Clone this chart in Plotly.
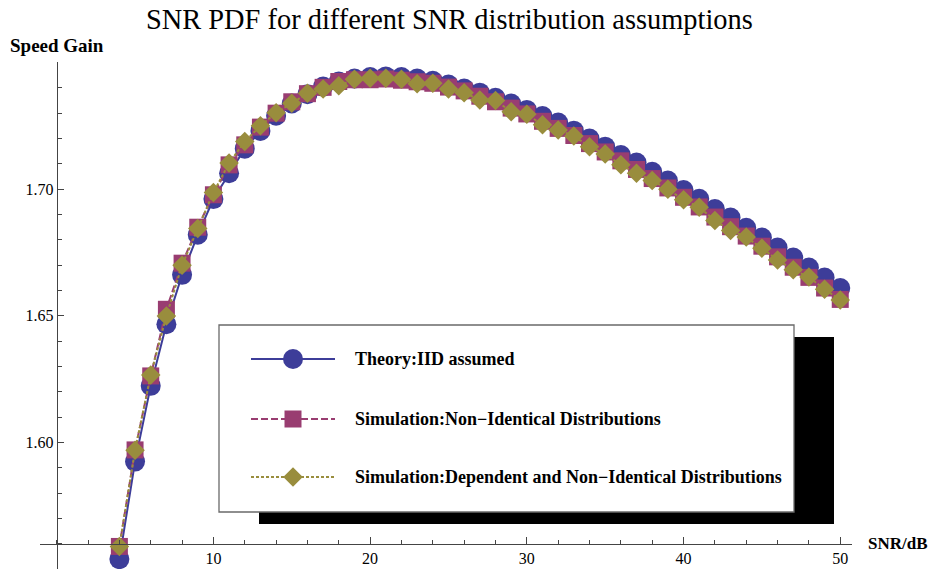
import plotly.graph_objects as go

# ---- data -------------------------------------------------------------
snr_db = [4, 5, 6, 7, 8, 9, 10, 11, 12, 13, 14, 15, 16, 17, 18, 19, 20, 21, 22, 23,
          24, 25, 26, 27, 28, 29, 30, 31, 32, 33, 34, 35, 36, 37, 38, 39, 40, 41, 42,
          43, 44, 45, 46, 47, 48, 49, 50]

theory_iid = [1.5540, 1.5925, 1.6224, 1.6467, 1.6662, 1.6820, 1.6961, 1.7063, 1.7160,
              1.7230, 1.7290, 1.7338, 1.7375, 1.7405, 1.7425, 1.7437, 1.7443, 1.7445,
              1.7443, 1.7437, 1.7428, 1.7413, 1.7397, 1.7381, 1.7361, 1.7338, 1.7313,
              1.7289, 1.7263, 1.7231, 1.7200, 1.7168, 1.7135, 1.7105, 1.7069, 1.7034,
              1.6997, 1.6962, 1.6922, 1.6888, 1.6848, 1.6809, 1.6770, 1.6730, 1.6691,
              1.6651, 1.6610]

sim_non_identical = [1.5590, 1.5971, 1.6263, 1.6526, 1.6708, 1.6850, 1.6978, 1.7096,
                     1.7175, 1.7245, 1.7300, 1.7345, 1.7377, 1.7402, 1.7425, 1.7432,
                     1.7432, 1.7435, 1.7430, 1.7424, 1.7418, 1.7403, 1.7388, 1.7367,
                     1.7345, 1.7320, 1.7297, 1.7268, 1.7240, 1.7212, 1.7180, 1.7147,
                     1.7112, 1.7078, 1.7042, 1.7005, 1.6968, 1.6930, 1.6890, 1.6852,
                     1.6815, 1.6775, 1.6733, 1.6692, 1.6652, 1.6610, 1.6565]

sim_dependent = [1.5590, 1.5970, 1.6267, 1.6500, 1.6700, 1.6845, 1.6987, 1.7103, 1.7188,
                 1.7250, 1.7302, 1.7339, 1.7379, 1.7395, 1.7408, 1.7434, 1.7438, 1.7438,
                 1.7434, 1.7416, 1.7418, 1.7395, 1.7381, 1.7352, 1.7350, 1.7306, 1.7296,
                 1.7254, 1.7234, 1.7210, 1.7168, 1.7139, 1.7096, 1.7063, 1.7034, 1.7000,
                 1.6958, 1.6929, 1.6876, 1.6837, 1.6811, 1.6767, 1.6721, 1.6682, 1.6653,
                 1.6605, 1.6563]

series_names = ["Theory:IID assumed",
                "Simulation:Non\u2212Identical Distributions",
                "Simulation:Dependent and Non\u2212Identical Distributions"]

x_ticks = [10, 20, 30, 40, 50]
y_ticks = [1.60, 1.65, 1.70]

# ---- styling ----------------------------------------------------------
W, H = 933, 569
ML, MR, MT, MB = 40, 81, 62, 0
X_RANGE = [-1.066, 50.75]
Y_RANGE = [1.5501, 1.7502]
AXES_CROSS_X = 0.0
AXES_CROSS_Y = 1.56

COLORS = ["#3d3d99", "#993d71", "#998d3d"]
SYMBOLS = ["circle", "square", "diamond"]
SIZES = [20, 17, 15]
DASHES = ["solid", "7px,3px", "3px,2px"]
SERIF = "Liberation Serif, Times New Roman, serif"
AXIS_COLOR = "#444444"

plot_w = W - ML - MR
plot_h = H - MT - MB


def px_x(px):
    """figure pixel column -> paper x"""
    return (px - ML) / plot_w


def px_y(py):
    """figure pixel row -> paper y"""
    return 1 - (py - MT) / plot_h


fig = go.Figure()

for vals, name, c, sym, sz, dash in zip(
        [theory_iid, sim_non_identical, sim_dependent],
        series_names, COLORS, SYMBOLS, SIZES, DASHES):
    fig.add_trace(go.Scatter(
        x=snr_db, y=vals, name=name, mode="lines+markers",
        line=dict(color=c, width=2, dash=dash),
        marker=dict(symbol=sym, size=sz, color=c, line=dict(width=0)),
        showlegend=False, hoverinfo="x+y",
    ))

# ---- framed legend with drop shadow (drawn in pixel space on overlay axes) ----
BOX = (219, 325, 794, 512)          # left, top, right, bottom
SHADOW_DX, SHADOW_DY = 40, 12
ROW_Y = [359, 419, 477]
SAMPLE_X0, SAMPLE_X1 = 251, 335
TEXT_X = 353

fig.add_shape(type="rect", xref="x2", yref="y2", layer="below",
              x0=BOX[0] + SHADOW_DX, x1=BOX[2] + SHADOW_DX,
              y0=BOX[1] + SHADOW_DY, y1=BOX[3] + SHADOW_DY,
              fillcolor="black", line=dict(width=0))
fig.add_shape(type="rect", xref="x2", yref="y2", layer="below",
              x0=BOX[0], x1=BOX[2], y0=BOX[1], y1=BOX[3],
              fillcolor="white", line=dict(color="#6a6a6a", width=1.3))

for ry, name, c, sym, sz, dash in zip(ROW_Y, series_names, COLORS, SYMBOLS, SIZES, DASHES):
    fig.add_trace(go.Scatter(
        x=[SAMPLE_X0, SAMPLE_X1], y=[ry, ry], xaxis="x2", yaxis="y2",
        mode="lines", line=dict(color=c, width=2, dash=dash),
        showlegend=False, hoverinfo="skip"))
    fig.add_trace(go.Scatter(
        x=[(SAMPLE_X0 + SAMPLE_X1) / 2], y=[ry], xaxis="x2", yaxis="y2",
        mode="markers", marker=dict(symbol=sym, size=sz, color=c, line=dict(width=0)),
        showlegend=False, hoverinfo="skip"))
    fig.add_annotation(x=TEXT_X, y=ry, xref="x2", yref="y2", text=f"<b>{name}</b>",
                       showarrow=False, xanchor="left", yanchor="middle",
                       font=dict(family=SERIF, size=18, color="black"))

# ---- titles -----------------------------------------------------------
fig.add_annotation(x=px_x(449), y=px_y(19), xref="paper", yref="paper",
                   text="SNR PDF for different SNR distribution assumptions",
                   showarrow=False, xanchor="center", yanchor="middle",
                   font=dict(family=SERIF, size=28.4, color="black"))
fig.add_annotation(x=px_x(8), y=px_y(45), xref="paper", yref="paper",
                   text="<b>Speed Gain</b>", showarrow=False,
                   xanchor="left", yanchor="middle",
                   font=dict(family=SERIF, size=19, color="black"))
fig.add_annotation(x=px_x(866), y=px_y(543), xref="paper", yref="paper",
                   text="<b>SNR/dB</b>", showarrow=False,
                   xanchor="left", yanchor="middle",
                   font=dict(family=SERIF, size=17, color="black"))

x_pos = (AXES_CROSS_Y - Y_RANGE[0]) / (Y_RANGE[1] - Y_RANGE[0])
y_pos = (AXES_CROSS_X - X_RANGE[0]) / (X_RANGE[1] - X_RANGE[0])

fig.update_layout(
    width=W, height=H,
    margin=dict(l=ML, r=MR, t=MT, b=MB, autoexpand=False),
    paper_bgcolor="white", plot_bgcolor="rgba(0,0,0,0)",
    font=dict(family=SERIF, size=16, color="black"),
    xaxis=dict(range=X_RANGE, anchor="free", position=x_pos,
               showgrid=False, zeroline=False,
               showline=True, linecolor=AXIS_COLOR, linewidth=1,
               tickmode="array", tickvals=x_ticks, ticks="inside",
               ticklen=7, tickcolor=AXIS_COLOR, tickwidth=1,
               tickfont=dict(family=SERIF, size=16, color="black"),
               minor=dict(dtick=2, tick0=0, ticks="inside", ticklen=3.5,
                          tickcolor=AXIS_COLOR, tickwidth=1, showgrid=False)),
    yaxis=dict(range=Y_RANGE, anchor="free", position=y_pos,
               showgrid=False, zeroline=False,
               showline=True, linecolor=AXIS_COLOR, linewidth=1,
               tickmode="array", tickvals=y_ticks, tickformat=".2f",
               ticks="inside", ticklen=6, tickcolor=AXIS_COLOR, tickwidth=1,
               tickfont=dict(family=SERIF, size=16, color="black"),
               minor=dict(dtick=0.01, tick0=1.60, ticks="inside", ticklen=4,
                          tickcolor=AXIS_COLOR, tickwidth=1, showgrid=False)),
    xaxis2=dict(overlaying="x", range=[ML, W - MR], visible=False, fixedrange=True),
    yaxis2=dict(overlaying="y", range=[H - MB, MT], visible=False, fixedrange=True),
    showlegend=False,
)

fig.write_html("out.html")
